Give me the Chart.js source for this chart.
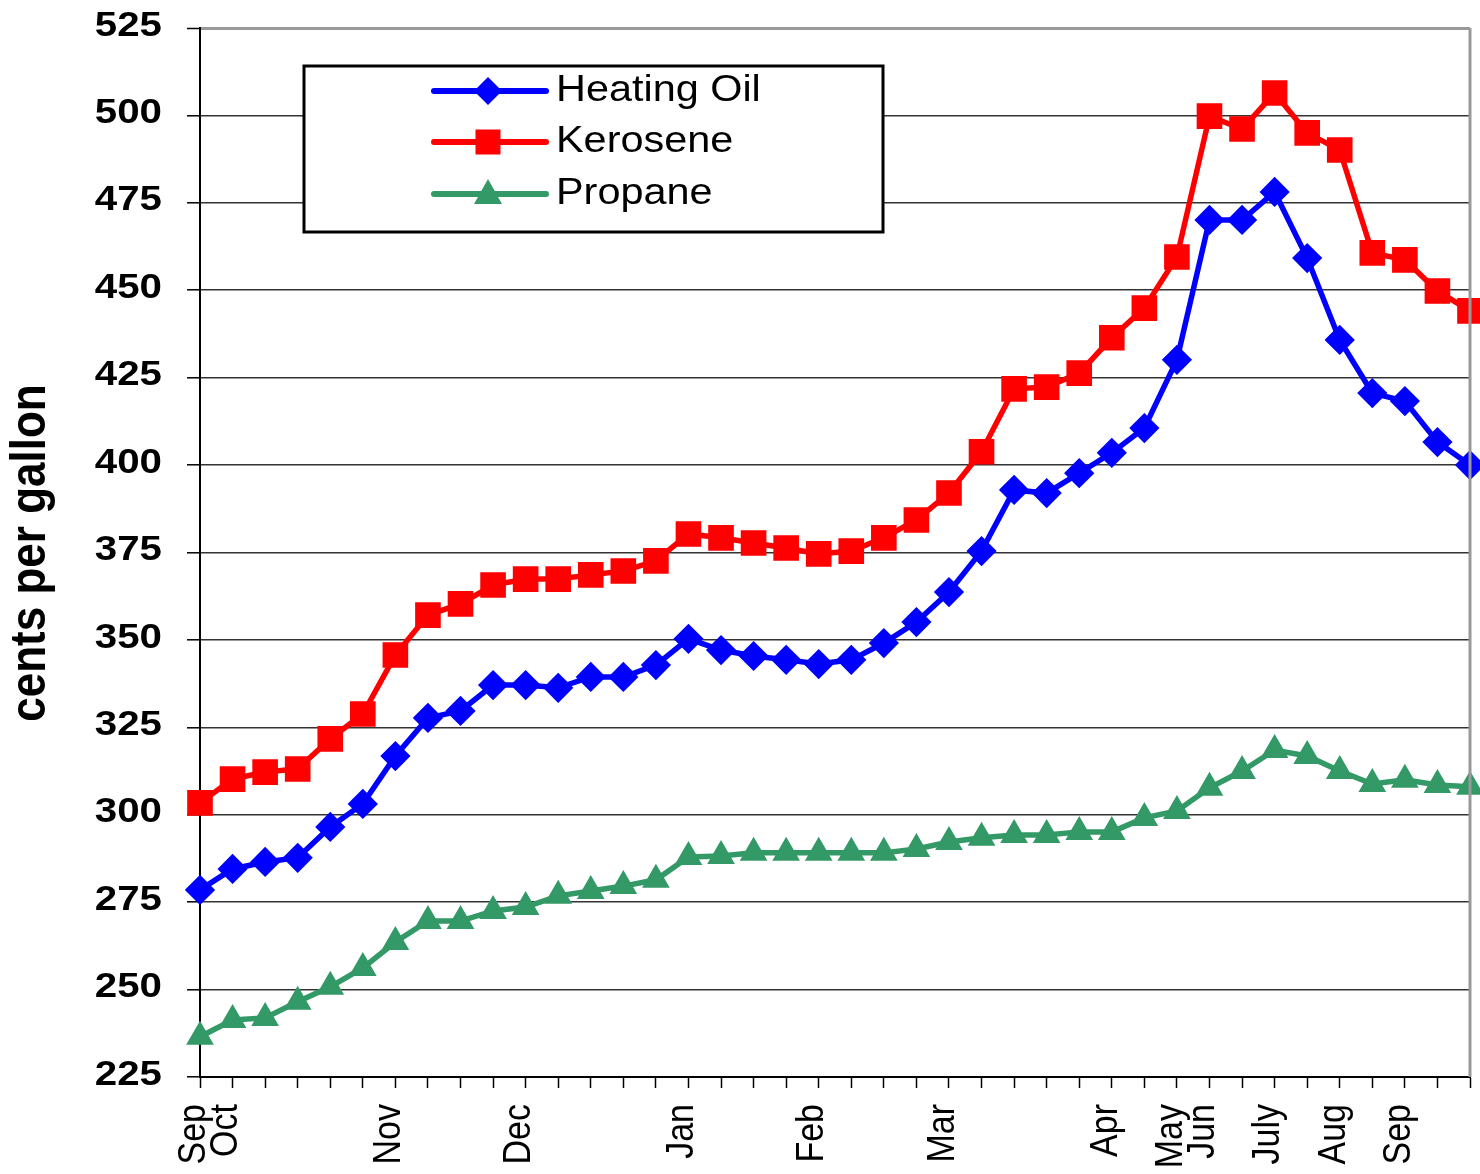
<!DOCTYPE html>
<html>
<head>
<meta charset="utf-8">
<script src="https://cdn.jsdelivr.net/npm/chart.js@4"></script>
<style>
  html, body { margin: 0; padding: 0; background: #fff; }
  #wrap { width: 1480px; height: 1174px; }
</style>
</head>
<body>
<div id="wrap"><canvas id="myChart" width="1480" height="1174"></canvas></div>
<script>
// weekly retail prices, cents per gallon
var monthLabels = ['Sep', 'Oct', '', '', '', '', 'Nov', '', '', '', 'Dec', '', '', '', '', 'Jan', '', '', '', 'Feb',
  '', '', '', 'Mar', '', '', '', '', 'Apr', '', 'May', 'Jun', '', 'July', '', 'Aug', '', 'Sep', '', ''];
var heatingOil = [278.5, 284.5, 286.5, 287.7, 296.5, 303.1, 316.8, 327.7, 329.7, 337.1, 337.1, 336.3, 339.4, 339.4,
  342.8, 350.3, 347.1, 345.4, 344.3, 343.1, 344.3, 349.1, 355.1, 363.7, 375.4, 392.9, 392, 397.7, 403.5, 410.6,
  430.1, 470.1, 470.1, 478.1, 459.2, 435.8, 420.6, 418.3, 406.6, 400];
var kerosene = [303.4, 310.2, 312.2, 313.1, 321.7, 328.8, 345.7, 357.1, 360.3, 365.7, 367.4, 367.4, 368.6, 369.7,
  372.6, 380.3, 379.2, 377.7, 376.3, 374.6, 375.4, 379.2, 384.3, 392, 403.8, 421.8, 422.3, 426.3, 436.4, 444.9,
  459.5, 499.8, 496.1, 506.4, 495, 490.1, 460.7, 458.7, 449.8, 444.1];
var propane = [236.5, 241.3, 241.9, 246.5, 250.8, 256.2, 263.6, 269.6, 269.6, 272.5, 273.6, 276.8, 278.2, 279.6,
  281.4, 287.9, 288.2, 289.1, 289.1, 289.1, 289.1, 289.1, 290.2, 292.2, 293.4, 294.2, 294.2, 295.1, 295.1, 299.1,
  301.1, 307.7, 312.5, 318.5, 316.8, 312.5, 308.8, 310, 308.5, 308];
var seriesNames = ['Heating Oil', 'Kerosene', 'Propane'];
var yMin = 225, yMax = 525, yStep = 25;
var yTitle = 'cents per gallon';

var FONT = '"Liberation Sans", Arial, sans-serif';
var colors = ['#0000ff', '#ff0000', '#339966'];
var styles = ['rectRot', 'rect', 'triangle'];

// draws text stretched sideways a bit, like the original picture
function stretchedText(ctx, text, x, y, font, align, rot) {
  ctx.save();
  ctx.translate(x, y);
  ctx.scale(1.15, 1);
  if (rot) ctx.rotate(-Math.PI / 2);
  ctx.font = font;
  ctx.fillStyle = '#000';
  ctx.textAlign = align;
  ctx.textBaseline = 'middle';
  ctx.fillText(text, 0, 0);
  ctx.restore();
}

function marker(ctx, style, x, y, color) {
  ctx.save();
  ctx.fillStyle = color;
  ctx.beginPath();
  if (style === 'rect') {
    ctx.rect(x - 12.5, y - 12.5, 25, 25);
  } else if (style === 'rectRot') {
    ctx.moveTo(x, y - 14); ctx.lineTo(x + 14, y); ctx.lineTo(x, y + 14); ctx.lineTo(x - 14, y);
  } else {
    ctx.moveTo(x, y - 15); ctx.lineTo(x + 14, y + 10); ctx.lineTo(x - 14, y + 10);
  }
  ctx.closePath();
  ctx.fill();
  ctx.restore();
}

var textPlugin = {
  id: 'textPlugin',
  afterDraw: function (chart) {
    var ctx = chart.ctx;
    var xs = chart.scales.x, ys = chart.scales.y, area = chart.chartArea;

    // right frame edge
    ctx.save();
    ctx.strokeStyle = '#999';
    ctx.lineWidth = 3;
    ctx.beginPath();
    ctx.moveTo(area.right, area.top);
    ctx.lineTo(area.right, area.bottom);
    ctx.stroke();
    ctx.restore();

    // y tick labels
    ys.ticks.forEach(function (t) {
      stretchedText(ctx, String(t.value), 162, ys.getPixelForValue(t.value) - 2, 'bold 35px ' + FONT, 'right');
    });

    // x tick labels
    monthLabels.forEach(function (lab, i) {
      if (!lab) return;
      stretchedText(ctx, lab, xs.getPixelForValue(i) - 6, 1104, '34px ' + FONT, 'right', true);
    });

    // y axis title
    stretchedText(ctx, yTitle, 31, 553, 'bold 44px ' + FONT, 'center', true);

    // legend box
    ctx.save();
    ctx.fillStyle = '#fff';
    ctx.fillRect(304, 66, 579, 166);
    ctx.strokeStyle = '#000';
    ctx.lineWidth = 3;
    ctx.strokeRect(304, 66, 579, 166);
    ctx.restore();
    var rows = [91, 142, 194];
    seriesNames.forEach(function (name, i) {
      var y = rows[i];
      ctx.save();
      ctx.strokeStyle = colors[i];
      ctx.lineWidth = 6;
      ctx.lineCap = 'round';
      ctx.beginPath();
      ctx.moveTo(434, y);
      ctx.lineTo(546, y);
      ctx.stroke();
      ctx.restore();
      marker(ctx, styles[i], 488, y, colors[i]);
      stretchedText(ctx, name, 556, y, '36px ' + FONT, 'left');
    });
  }
};

function makeSet(label, data, i, radius, bw) {
  return {
    label: label,
    data: data,
    borderColor: colors[i],
    backgroundColor: colors[i],
    borderWidth: 5.5,
    pointStyle: styles[i],
    pointRadius: radius,
    pointBorderWidth: bw,
    pointBorderColor: colors[i],
    pointBackgroundColor: colors[i],
    tension: 0,
    clip: false
  };
}

var ctx = document.getElementById('myChart').getContext('2d');
var myChart = new Chart(ctx, {
  type: 'line',
  data: {
    labels: monthLabels,
    datasets: [
      makeSet(seriesNames[0], heatingOil, 0, 13, 3),
      makeSet(seriesNames[1], kerosene, 1, 16, 3),
      makeSet(seriesNames[2], propane, 2, 14, 2)
    ]
  },
  options: {
    responsive: false,
    animation: false,
    layout: { autoPadding: false, padding: { top: 28, right: 10, left: 0, bottom: 0 } },
    plugins: {
      legend: { display: false },
      tooltip: { enabled: false }
    },
    scales: {
      x: {
        offset: false,
        ticks: { display: false },
        grid: { display: true, drawOnChartArea: false, drawTicks: true, tickLength: 11, tickColor: '#000', tickWidth: 1.5 },
        border: { display: true, color: '#000', width: 2 },
        afterFit: function (scale) { scale.height = 97; }
      },
      y: {
        min: yMin,
        max: yMax,
        ticks: { display: false, stepSize: yStep },
        grid: {
          color: function (c) { return c.tick && c.tick.value === yMax ? '#999' : '#333'; },
          lineWidth: function (c) { return c.tick && c.tick.value === yMax ? 3 : 1.6; },
          tickLength: 13,
          tickColor: '#000',
          tickWidth: 1.5
        },
        border: { display: true, color: '#000', width: 2 },
        afterFit: function (scale) { scale.width = 200; }
      }
    }
  },
  plugins: [textPlugin]
});
</script>
</body>
</html>
